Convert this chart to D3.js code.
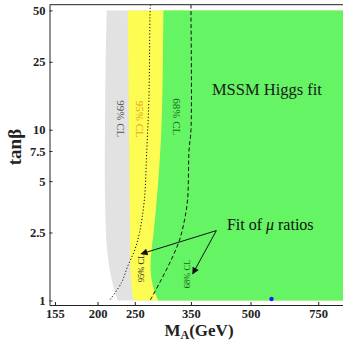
<!DOCTYPE html>
<html>
<head>
<meta charset="utf-8">
<script src="https://cdn.jsdelivr.net/npm/d3@7"></script>
<style>
  body { margin: 0; background: #fff; }
  svg { display: block; font-family: "Liberation Serif", "DejaVu Serif", serif; }
</style>
</head>
<body>
<div id="chart"></div>
<script>
// tick labels
const xTicks = [155, 200, 250, 350, 500, 750];
const yTicks = [1, 2.5, 5, 7.5, 10, 25, 50];

// allowed-region left edges (tanBeta -> M_A), regions extend to the right
const edgeTanB = [50, 25, 10, 5, 2.5, 2, 1.5, 1.2, 1];
const cl99Edge = [211.4, 210, 209.1, 208.9, 210.4, 211.8, 215.3, 220.1, 225.6];
const cl95Edge = [239.7, 240.7, 241.4, 242.2, 243, 243, 243.8, 245.3, 248.3];
const cl68Edge = [296.8, 295.9, 293.1, 287.7, 279.9, 276.6, 274.9, 279.1, 287.7];

// fit of mu ratios contours
const muDotTanB = [54, 50, 15, 7.6, 3.9, 2.5, 2, 1.57, 1.27, 1];
const muDotMA   = [274.5, 274, 272, 268.6, 264.8, 257.2, 250.4, 239.2, 230.9, 214.8];
const muDashTanB = [54, 50, 10, 7.6, 3.9, 2.96, 2.26, 1.73, 1.32, 1.0];
const muDashMA   = [350, 350, 350, 346, 343, 336.7, 326.8, 311, 292.8, 274];

// best fit point
const bestFit = { ma: 567, tb: 1.02 };

const W = 343, H = 345;
const x = d3.scaleLog().domain([150, 870]).range([49.5, 343]);
const y = d3.scaleLog().domain([0.94, 54]).range([305, 4.7]);

const svg = d3.select("#chart").append("svg")
  .attr("width", W).attr("height", H);

svg.append("clipPath").attr("id", "plot")
  .append("rect")
  .attr("x", x.range()[0]).attr("y", y.range()[1])
  .attr("width", W - x.range()[0]).attr("height", y.range()[0] - y.range()[1]);

const plot = svg.append("g").attr("clip-path", "url(#plot)");

const toPts = (tb, ma) => tb.map((t, i) => ({ t: t, m: ma[i] }));

const area = d3.area()
  .y(d => y(d.t))
  .x0(d => x(d.m))
  .x1(x(870) + 5)
  .curve(d3.curveCatmullRom);

plot.append("path").attr("d", area(toPts(edgeTanB, cl99Edge))).attr("fill", "#e2e2e2");
plot.append("path").attr("d", area(toPts(edgeTanB, cl95Edge))).attr("fill", "#fcfc52");
plot.append("path").attr("d", area(toPts(edgeTanB, cl68Edge))).attr("fill", "#64f464");

const line = d3.line()
  .x(d => x(d.m))
  .y(d => y(d.t))
  .curve(d3.curveCatmullRom);

plot.append("path").attr("d", line(toPts(muDotTanB, muDotMA)))
  .attr("fill", "none").attr("stroke", "#111").attr("stroke-width", 1)
  .attr("stroke-dasharray", "1.2,2");
plot.append("path").attr("d", line(toPts(muDashTanB, muDashMA)))
  .attr("fill", "none").attr("stroke", "#111").attr("stroke-width", 1)
  .attr("stroke-dasharray", "4,2.5");

plot.append("circle")
  .attr("cx", x(bestFit.ma)).attr("cy", y(bestFit.tb)).attr("r", 2.2)
  .attr("fill", "#1a1aff");

// vertical CL labels
const vLabels = [
  { text: "99% CL", ma: 229.7, tb: 11.6, rot: 90, size: 11, color: "#555" },
  { text: "95% CL", ma: 257.9, tb: 11.5, rot: 90, size: 11, color: "#e6a01c" },
  { text: "68% CL", ma: 322.4, tb: 11.9, rot: 90, size: 11, color: "#1b6e1b" },
  { text: "95% CL", ma: 259.5, tb: 1.55, rot: -90, size: 8.5, color: "#222" },
  { text: "68% CL", ma: 341.8, tb: 1.43, rot: -90, size: 8.5, color: "#1b5e1b" }
];
vLabels.forEach(l => {
  svg.append("text")
    .attr("transform", `translate(${x(l.ma)},${y(l.tb)}) rotate(${l.rot})`)
    .attr("text-anchor", "middle").attr("dy", "0.35em")
    .attr("font-size", l.size).attr("fill", l.color)
    .text(l.text);
});

svg.append("text")
  .attr("x", x(551.7)).attr("y", y(16))
  .attr("text-anchor", "middle").attr("font-size", 16.5).attr("fill", "#1a1a1a")
  .text("MSSM Higgs fit");

const fitText = svg.append("text")
  .attr("x", x(434)).attr("y", y(2.586))
  .attr("font-size", 16).attr("fill", "#111");
fitText.append("tspan").text("Fit of ");
fitText.append("tspan").attr("font-style", "italic").text("μ");
fitText.append("tspan").text(" ratios");

// arrows
svg.append("defs").append("marker")
  .attr("id", "head").attr("viewBox", "0 0 10 10")
  .attr("refX", 9).attr("refY", 5)
  .attr("markerWidth", 9).attr("markerHeight", 7)
  .attr("markerUnits", "userSpaceOnUse")
  .attr("orient", "auto")
  .append("path").attr("d", "M0,0L10,5L0,10z").attr("fill", "#111");

const arrowFrom = { ma: 407.5, tb: 2.565 };
const arrowTips = [{ ma: 259.7, tb: 1.873 }, { ma: 353.6, tb: 1.43 }];
arrowTips.forEach(a => {
  svg.append("line")
    .attr("x1", x(arrowFrom.ma)).attr("y1", y(arrowFrom.tb))
    .attr("x2", x(a.ma)).attr("y2", y(a.tb))
    .attr("stroke", "#111").attr("stroke-width", 1)
    .attr("marker-end", "url(#head)");
});

// axes
const xAxis = d3.axisBottom(x).tickValues(xTicks).tickFormat(d3.format("d"))
  .tickSizeInner(-3).tickSizeOuter(0).tickPadding(4);
const yAxis = d3.axisLeft(y).tickValues(yTicks).tickFormat(d => String(d))
  .tickSizeInner(-3).tickSizeOuter(0).tickPadding(4);

const gx = svg.append("g").attr("transform", `translate(0,${y.range()[0]})`).call(xAxis);
const gy = svg.append("g").attr("transform", `translate(${x.range()[0]},0)`).call(yAxis);
[gx, gy].forEach(g => {
  g.selectAll("path, line").attr("stroke", "#222");
  g.selectAll("text").attr("font-family", "Liberation Serif, serif")
    .attr("font-weight", "bold").attr("font-size", 12.5).attr("fill", "#222");
});

svg.append("line")
  .attr("x1", x.range()[0]).attr("x2", W)
  .attr("y1", y.range()[1]).attr("y2", y.range()[1])
  .attr("stroke", "#222");

// axis titles
svg.append("text")
  .attr("transform", "translate(21,147) rotate(-90)")
  .attr("text-anchor", "middle").attr("font-weight", "bold").attr("font-size", 19)
  .attr("fill", "#222")
  .text("tanβ");

const xt = svg.append("text")
  .attr("x", 199).attr("y", 336)
  .attr("text-anchor", "middle").attr("font-weight", "bold").attr("font-size", 17)
  .attr("fill", "#222");
xt.append("tspan").text("M");
xt.append("tspan").attr("font-size", 12).attr("dy", 3).text("A");
xt.append("tspan").attr("dy", -3).text("(GeV)");
</script>
</body>
</html>
